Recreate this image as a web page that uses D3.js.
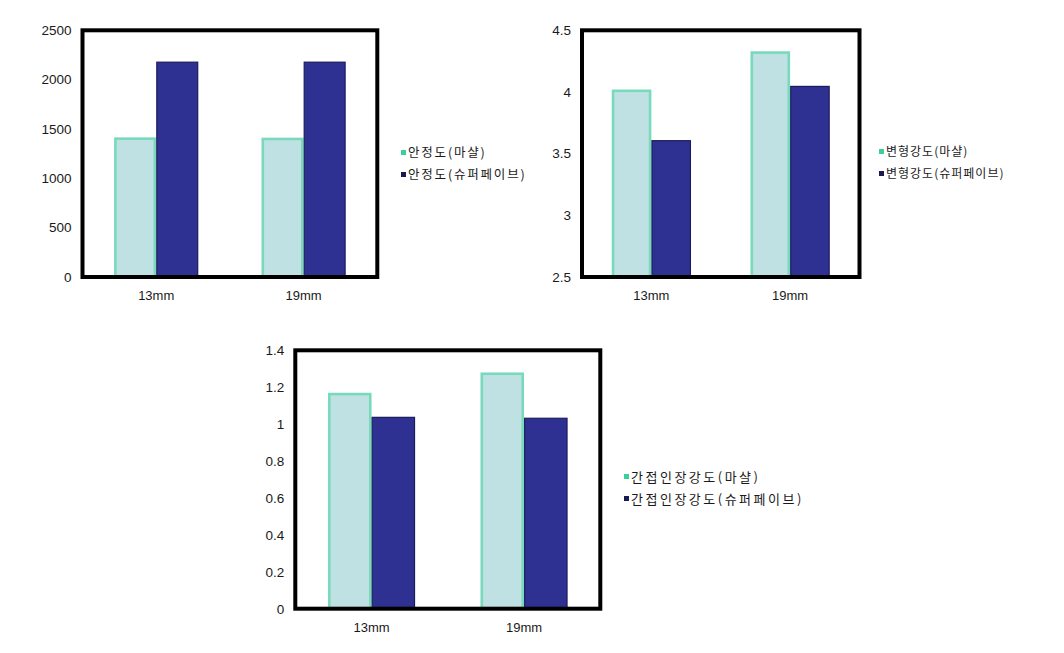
<!DOCTYPE html>
<html>
<head>
<meta charset="utf-8">
<script src="https://cdn.jsdelivr.net/npm/d3@7"></script>
<style>
  html, body { margin: 0; padding: 0; background: #fff; }
  svg { display: block; }
</style>
</head>
<body>
<svg id="chart" width="1064" height="653"></svg>
<script>
// ---- data ----
const categories = ["13mm", "19mm"];

const stabilityNames = ["안정도(마샬)", "안정도(슈퍼페이브)"];
const stabilityMarshall = [1415, 1412];
const stabilitySuperpave = [2183, 2183];
const stabilityTicks = [0, 500, 1000, 1500, 2000, 2500];

const deformNames = ["변형강도(마샬)", "변형강도(슈퍼페이브)"];
const deformMarshall = [4.02, 4.33];
const deformSuperpave = [3.61, 4.05];
const deformTicks = [2.5, 3, 3.5, 4, 4.5];

const tensileNames = ["간접인장강도(마샬)", "간접인장강도(슈퍼페이브)"];
const tensileMarshall = [1.17, 1.28];
const tensileSuperpave = [1.04, 1.035];
const tensileTicks = [0, 0.2, 0.4, 0.6, 0.8, 1, 1.2, 1.4];

// ---- styles ----
const marshallFill = "#bfe1e3";
const marshallStroke = "#78dabb";
const marshallLegend = "#3ccf99";
const superFill = "#2f3192";
const superStroke = "#1c1c5c";
const superLegend = "#1a1a50";

const svg = d3.select("#chart");

function drawChart(opt) {
  const g = svg.append("g");
  const x0 = d3.scaleBand().domain(categories).range([opt.left, opt.right]).padding(0);
  const groupW = x0.bandwidth() * 2 / 3.5;
  const x1 = d3.scaleBand().domain([0, 1]).range([0, groupW]).padding(0);
  const y = d3.scaleLinear().domain([opt.ticks[0], opt.ticks[opt.ticks.length - 1]]).range([opt.bottom, opt.top]);

  const series = [
    { vals: opt.marshall, fill: marshallFill, stroke: marshallStroke, sw: 2.6 },
    { vals: opt.superpave, fill: superFill, stroke: superStroke, sw: 1.2 }
  ];

  series.forEach((s, si) => {
    g.selectAll(null).data(categories).enter().append("rect")
      .attr("x", (c) => x0(c) + (x0.bandwidth() - groupW) / 2 + x1(si) + s.sw / 2)
      .attr("y", (c, i) => y(s.vals[i]) + s.sw / 2)
      .attr("width", x1.bandwidth() - s.sw)
      .attr("height", (c, i) => Math.max(0, y.range()[0] - y(s.vals[i]) - s.sw / 2))
      .attr("fill", s.fill)
      .attr("stroke", s.stroke)
      .attr("stroke-width", s.sw);
  });

  // frame
  g.append("rect")
    .attr("x", opt.left).attr("y", opt.top)
    .attr("width", opt.right - opt.left).attr("height", opt.bottom - opt.top)
    .attr("fill", "none").attr("stroke", "#000").attr("stroke-width", 4);

  // y axis
  const yAxis = d3.axisLeft(y).tickValues(opt.ticks).tickSize(0).tickPadding(10)
    .tickFormat(d3.format("~g"));
  const ya = g.append("g").attr("transform", `translate(${opt.left - 1},0)`).call(yAxis);
  ya.select(".domain").remove();
  ya.selectAll("text").attr("font-family", "Liberation Sans, Arial, sans-serif")
    .attr("font-size", 13.5).attr("fill", "#1a1a1a");

  // x axis
  const xAxis = d3.axisBottom(x0).tickSize(0).tickPadding(14);
  const xa = g.append("g").attr("transform", `translate(0,${opt.bottom})`).call(xAxis);
  xa.select(".domain").remove();
  xa.selectAll("text").attr("font-family", "Liberation Sans, Arial, sans-serif")
    .attr("font-size", 13).attr("fill", "#1a1a1a");

  // legend
  const legColors = [marshallLegend, superLegend];
  opt.names.forEach((n, i) => {
    const ly = opt.legY + i * 22;
    g.append("rect").attr("x", opt.legX).attr("y", ly - 3).attr("width", 5).attr("height", 5)
      .attr("fill", legColors[i]);
    g.append("text").attr("x", opt.legX + 7).attr("y", ly).attr("dy", "0.35em")
      .attr("font-family", "Noto Sans CJK KR, sans-serif").attr("font-size", opt.legFs)
      .attr("letter-spacing", opt.legLs).attr("fill", "#1a1a1a").text(n);
  });
}

drawChart({ left: 82.5, right: 377.3, top: 30.3, bottom: 277,
  marshall: stabilityMarshall, superpave: stabilitySuperpave, ticks: stabilityTicks,
  names: stabilityNames, legX: 401, legY: 153, legFs: 12.5, legLs: 1.8 });

drawChart({ left: 582, right: 859.5, top: 30.3, bottom: 277,
  marshall: deformMarshall, superpave: deformSuperpave, ticks: deformTicks,
  names: deformNames, legX: 879, legY: 152, legFs: 12, legLs: 1 });

drawChart({ left: 295.3, right: 600.3, top: 350.3, bottom: 608.7,
  marshall: tensileMarshall, superpave: tensileSuperpave, ticks: tensileTicks,
  names: tensileNames, legX: 624, legY: 477, legFs: 13, legLs: 2.5 });
</script>
</body>
</html>
